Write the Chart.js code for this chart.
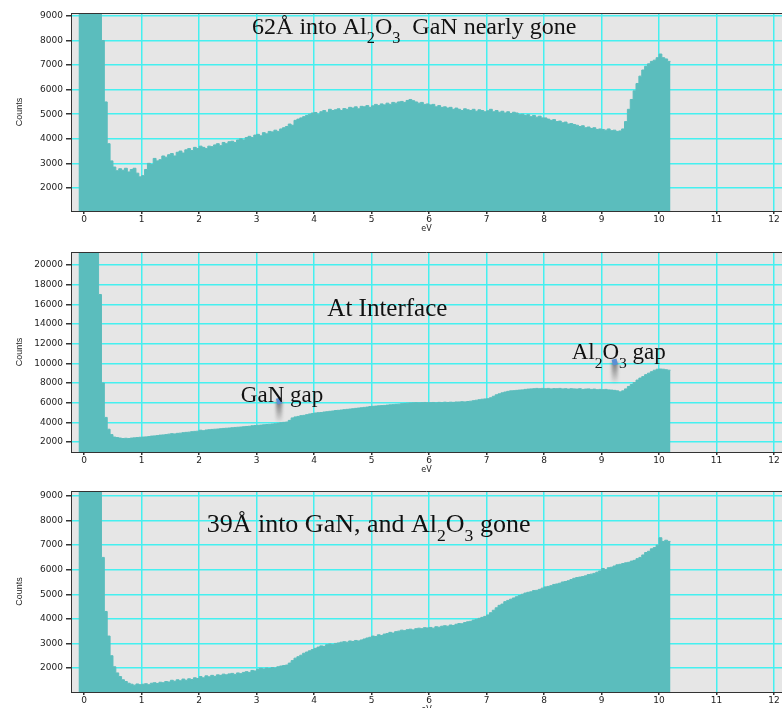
<!DOCTYPE html>
<html>
<head>
<meta charset="utf-8">
<script src="https://cdn.jsdelivr.net/npm/chart.js@4.4.1/dist/chart.umd.min.js"></script>
<style>
  html, body { margin: 0; padding: 0; background: #ffffff; }
  body { width: 782px; height: 708px; overflow: hidden; position: relative; }
  canvas { position: absolute; left: 0; }
</style>
</head>
<body>
<canvas id="c1" width="782" height="236" style="top:0px"></canvas>
<canvas id="c2" width="782" height="241" style="top:236px"></canvas>
<canvas id="c3" width="782" height="241" style="top:476px"></canvas>
<script>
// ---- histogram binning (eV) ----
const binStart = -0.1;
const binWidth = 0.05;

// ---- x-axis tick labels (eV) ----
const xTickValues = [0, 1, 2, 3, 4, 5, 6, 7, 8, 9, 10, 11, 12];

// ---- y-axis tick labels (Counts) ----
const yTicksTop = [2000, 3000, 4000, 5000, 6000, 7000, 8000, 9000];
const yTicksMid = [2000, 4000, 6000, 8000, 10000, 12000, 14000, 16000, 18000, 20000];
const yTicksBot = [2000, 3000, 4000, 5000, 6000, 7000, 8000, 9000];

// ---- Panel 1: 62Å into Al2O3, GaN nearly gone (counts per bin from -0.10 eV) ----
const countsAl2O3 = [
  30000, 30000,
  30000, 30000, 30000, 30000, 30000, 30000, 8000, 5500, 3800, 3100, 2850, 2700, 2780, 2720, 2800, 2650, 2750, 2800, 2600, 2450,
  2500, 2750, 3000, 2950, 3200, 3100, 3150, 3300, 3250, 3350, 3400, 3300, 3450, 3500, 3420, 3550, 3600, 3520, 3650, 3600,
  3700, 3650, 3600, 3700, 3680, 3750, 3800, 3720, 3850, 3800, 3880, 3900, 3850, 3950, 4000, 3950, 4050, 4100, 4050, 4150,
  4180, 4120, 4250, 4200, 4300, 4280, 4350, 4300, 4400, 4450, 4500, 4600, 4550, 4750, 4800, 4850, 4900, 4950, 5000, 5050,
  5070, 5000, 5100, 5150, 5080, 5200, 5150, 5180, 5220, 5150, 5230, 5200, 5280, 5250, 5300, 5220, 5320, 5300, 5350, 5280,
  5340, 5400, 5350, 5420, 5380, 5450, 5400, 5480, 5450, 5500, 5520, 5480, 5560, 5600, 5550, 5500, 5450, 5480, 5400, 5420,
  5380, 5400, 5300, 5350, 5280, 5300, 5250, 5280, 5200, 5250, 5200, 5150, 5220, 5180, 5150, 5200, 5120, 5180, 5150, 5100,
  5140, 5200, 5100, 5150, 5080, 5120, 5050, 5100, 5030, 5080, 5050, 4980, 5000, 4950, 4980, 4900, 4950, 4880, 4920, 4850,
  4850, 4800, 4750, 4780, 4700, 4720, 4650, 4680, 4600, 4620, 4580, 4550, 4500, 4530, 4450, 4480, 4420, 4450, 4380, 4400,
  4380, 4350, 4400, 4330, 4350, 4300, 4320, 4400, 4700, 5200, 5600, 5950, 6250, 6550, 6800, 6950, 7050, 7150, 7200, 7300,
  7450, 7300, 7250, 7150
];

// ---- Panel 2: At interface ----
const countsInterface = [
  30000, 30000,
  30000, 30000, 30000, 30000, 30000, 17000, 8000, 4500, 3300, 2750, 2500, 2450, 2400, 2350, 2380, 2350, 2400, 2420, 2450, 2480,
  2500, 2520, 2550, 2600, 2620, 2650, 2700, 2720, 2750, 2800, 2850, 2820, 2880, 2900, 2950, 2980, 3000, 3050, 3080, 3100,
  3200, 3150, 3220, 3250, 3280, 3300, 3320, 3350, 3380, 3400, 3420, 3450, 3480, 3500, 3520, 3550, 3580, 3600, 3650, 3680,
  3700, 3720, 3750, 3780, 3800, 3830, 3860, 3900, 3950, 4000, 4030, 4200, 4450, 4550, 4600, 4680, 4710, 4780, 4850, 4900,
  4950, 4980, 5000, 5050, 5080, 5120, 5150, 5200, 5220, 5250, 5290, 5320, 5350, 5380, 5420, 5450, 5480, 5520, 5550, 5600,
  5630, 5650, 5680, 5700, 5720, 5750, 5780, 5800, 5830, 5850, 5900, 5920, 5950, 5970, 5980, 6000, 5980, 6000, 6020, 6000,
  6000, 6020, 5980, 6030, 6000, 6050, 6020, 6050, 6030, 6070, 6070, 6100, 6080, 6120, 6150, 6200, 6250, 6300, 6350, 6380,
  6400, 6500, 6650, 6800, 6900, 7000, 7080, 7150, 7200, 7220, 7250, 7280, 7300, 7350, 7380, 7400, 7420, 7450, 7420, 7450,
  7420, 7450, 7400, 7430, 7420, 7450, 7400, 7420, 7380, 7420, 7400, 7380, 7420, 7350, 7380, 7400, 7350, 7380, 7320, 7350,
  7320, 7350, 7300, 7280, 7250, 7200, 7100, 7200, 7400, 7650, 7850, 8050, 8300, 8500, 8650, 8850, 9000, 9150, 9300, 9400,
  9420, 9400, 9350, 9300
];

// ---- Panel 3: 39Å into GaN, Al2O3 gone ----
const countsGaN = [
  30000, 30000,
  30000, 30000, 30000, 30000, 30000, 30000, 6500, 4300, 3300, 2500, 2050, 1800, 1650, 1520, 1450, 1380, 1340, 1300, 1350, 1320,
  1340, 1360, 1320, 1380, 1400, 1370, 1420, 1400, 1450, 1430, 1500, 1460, 1520, 1480, 1550, 1500, 1560, 1530, 1600, 1570,
  1650, 1600, 1680, 1640, 1700, 1660, 1720, 1700, 1750, 1720, 1760, 1780, 1740, 1800, 1770, 1820, 1850, 1820, 1900, 1880,
  1950, 1990, 1960, 2000, 1980, 2020, 2000, 2050, 2080, 2100, 2120, 2200, 2300, 2400, 2460, 2520, 2600, 2650, 2700, 2750,
  2800, 2850, 2900, 2880, 2950, 2980, 2950, 3000, 3020, 3050, 3070, 3050, 3100, 3080, 3120, 3100, 3140, 3180, 3220, 3250,
  3300, 3280, 3350, 3320, 3380, 3400, 3450, 3420, 3480, 3500, 3540, 3520, 3560, 3580, 3550, 3600, 3620, 3600, 3640, 3630,
  3650, 3620, 3680, 3660, 3700, 3720, 3700, 3750, 3730, 3780, 3810, 3800, 3850, 3880, 3900, 3950, 3980, 4020, 4060, 4100,
  4160, 4250, 4350, 4450, 4550, 4600, 4700, 4750, 4800, 4850, 4900, 4950, 5000, 5050, 5080, 5100, 5150, 5160, 5200, 5250,
  5300, 5320, 5350, 5400, 5420, 5450, 5500, 5520, 5550, 5600, 5650, 5680, 5700, 5720, 5750, 5800, 5820, 5850, 5900, 5950,
  6050, 6000, 6080, 6100, 6150, 6200, 6220, 6250, 6280, 6300, 6350, 6380, 6450, 6500, 6600, 6700, 6750, 6850, 6900, 7000,
  7300, 7150, 7200, 7150
];

// ---- annotation texts ----
const textTop = [{t: '62Å into Al'}, {t: '2', sub: true}, {t: 'O'}, {t: '3', sub: true}, {t: '  GaN nearly gone'}];
const textInterface = [{t: 'At Interface'}];
const textGaNGap = [{t: 'GaN gap'}];
const textAlGap = [{t: 'Al'}, {t: '2', sub: true}, {t: 'O'}, {t: '3', sub: true}, {t: ' gap'}];
const textBot = [{t: '39Å into GaN, and Al'}, {t: '2', sub: true}, {t: 'O'}, {t: '3', sub: true}, {t: ' gone'}];

// ---------------- styling / drawing ----------------
const FILL = '#5bbdbd';
const GRID = '#45f0f0';
const AXIS = '#333333';
const PLOT_BG = '#e6e6e6';
const TICK_FONT = {family: '"DejaVu Sans", sans-serif', size: 9};

function histPoints(counts) {
  const pts = counts.map((c, i) => ({x: binStart + i * binWidth, y: c}));
  pts.push({x: binStart + counts.length * binWidth, y: counts[counts.length - 1]});
  return pts;
}

function drawRich(ctx, segs, x, y, size) {
  let cx = x;
  ctx.fillStyle = '#111';
  ctx.textBaseline = 'alphabetic';
  ctx.textAlign = 'left';
  for (const s of segs) {
    const fs = s.sub ? size * 0.68 : size;
    ctx.font = fs + 'px "Liberation Serif", "Times New Roman", serif';
    ctx.fillText(s.t, cx, y + (s.sub ? size * 0.36 : 0));
    cx += ctx.measureText(s.t).width;
  }
}

function drawPointer(ctx, px, py) {
  ctx.save();
  ctx.filter = 'blur(1.5px)';
  const g = ctx.createLinearGradient(0, py, 0, py + 22);
  g.addColorStop(0, 'rgba(80,80,80,0.75)');
  g.addColorStop(1, 'rgba(80,80,80,0)');
  ctx.fillStyle = g;
  ctx.fillRect(px - 3, py, 6, 22);
  ctx.restore();
  ctx.save();
  ctx.fillStyle = '#5b8fd4';
  ctx.translate(px, py);
  ctx.rotate(-0.25);
  ctx.fillRect(-2.5, -3, 5, 6);
  ctx.restore();
}

function makePanel(id, counts, yMin, yMax, yTicks, padTop, labels, pointers) {
  const bgPlugin = {
    id: 'plotbg',
    beforeDraw(chart) {
      const {ctx, chartArea: a} = chart;
      ctx.save();
      ctx.fillStyle = PLOT_BG;
      ctx.fillRect(a.left, a.top, a.right - a.left, a.bottom - a.top);
      ctx.restore();
    },
    afterDraw(chart) {
      const {ctx, chartArea: a} = chart;
      const xs = chart.scales.x, ys = chart.scales.y;
      ctx.save();
      ctx.strokeStyle = AXIS;
      ctx.lineWidth = 1;
      ctx.beginPath();
      ctx.moveTo(a.left, a.top + 0.5);
      ctx.lineTo(a.right, a.top + 0.5);
      ctx.stroke();
      ctx.restore();
      for (const p of pointers) {
        drawPointer(ctx, xs.getPixelForValue(p.x), ys.getPixelForValue(p.y));
      }
      for (const l of labels) {
        drawRich(ctx, l.segs, xs.getPixelForValue(l.x), ys.getPixelForValue(l.y), l.size);
      }
    }
  };
  return new Chart(document.getElementById(id), {
    type: 'line',
    data: {
      datasets: [{
        data: histPoints(counts),
        stepped: true,
        fill: 'origin',
        backgroundColor: FILL,
        borderColor: FILL,
        borderWidth: 1,
        pointRadius: 0
      }]
    },
    options: {
      responsive: false,
      animation: false,
      devicePixelRatio: 1,
      layout: {padding: {top: padTop, right: 0, bottom: 0, left: 0}},
      plugins: {legend: {display: false}, tooltip: {enabled: false}},
      scales: {
        x: {
          type: 'linear',
          min: -0.23,
          max: 12.14,
          afterBuildTicks(s) { s.ticks = xTickValues.map(v => ({value: v})); },
          afterFit(s) { s.height = 25; },
          grid: {color: GRID, lineWidth: 1.5, tickColor: AXIS, tickLength: 3, drawTicks: true},
          border: {display: true, color: AXIS, width: 1},
          ticks: {font: TICK_FONT, color: '#222', padding: 0, maxRotation: 0, autoSkip: false,
                  callback: v => String(v)},
          title: {display: true, text: 'eV', font: {family: '"DejaVu Sans", sans-serif', size: 8},
                  color: '#222', padding: {top: 0, bottom: 2}}
        },
        y: {
          type: 'linear',
          min: yMin,
          max: yMax,
          afterBuildTicks(s) { s.ticks = yTicks.map(v => ({value: v})); },
          afterFit(s) { s.width = 71; },
          grid: {color: GRID, lineWidth: 1.5, tickColor: AXIS, tickLength: 5},
          border: {display: true, color: AXIS, width: 1},
          ticks: {font: TICK_FONT, color: '#222', padding: 3, autoSkip: false,
                  callback: v => String(v)},
          title: {display: true, text: 'Counts', font: {family: '"Liberation Sans", sans-serif', size: 9},
                  color: '#222', padding: {top: 14, bottom: 0}}
        }
      }
    },
    plugins: [bgPlugin]
  });
}

makePanel('c1', countsAl2O3, 1060, 9120, yTicksTop, 13,
  [{segs: textTop, x: 2.92, y: 8265, size: 24}], []);
makePanel('c2', countsInterface, 983, 21322, yTicksMid, 16,
  [{segs: textInterface, x: 4.23, y: 14814, size: 25},
   {segs: textGaNGap, x: 2.725, y: 6098, size: 23},
   {segs: textAlGap, x: 8.48, y: 10410, size: 23}],
  [{x: 3.39, y: 6170}, {x: 9.23, y: 10135}]);
makePanel('c3', countsGaN, 1023, 9203, yTicksBot, 15,
  [{segs: textBot, x: 2.13, y: 7547, size: 26}], []);
</script>
</body>
</html>
